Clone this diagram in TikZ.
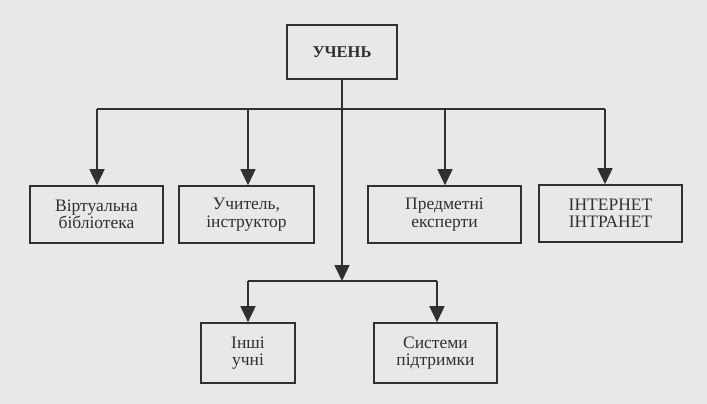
\documentclass[tikz,border=0pt]{standalone}
\usepackage{fontspec}
\setmainfont{Liberation Serif}
\usetikzlibrary{arrows.meta}
\definecolor{ink}{HTML}{303030}
\definecolor{paper}{HTML}{E8E8E8}
\begin{document}
\begin{tikzpicture}[x=1pt,y=-1pt,
  boxnode/.style={draw=ink,line width=1.6pt,align=center,text=ink,inner sep=0pt,
    font=\fontsize{17.5}{17.5}\selectfont},
  arr/.style={draw=ink,line width=1.6pt,-{Triangle[width=15pt,length=16pt]}},
  ln/.style={draw=ink,line width=1.6pt}]
\fill[paper] (0,0) rectangle (707,404);
\useasboundingbox (0,0) rectangle (707,404);
\node[boxnode,minimum width=110pt,minimum height=54pt,font=\bfseries\fontsize{16.5}{18}\selectfont] (top) at (342,52) {УЧЕНЬ};
\node[boxnode,minimum width=133pt,minimum height=57pt] (b1) at (96.5,214.5) {Віртуальна\\бібліотека};
\node[boxnode,minimum width=135pt,minimum height=57pt] (b2) at (246.5,214.5) {Учитель,\\інструктор};
\node[boxnode,minimum width=153pt,minimum height=57pt] (b3) at (444.5,214.5) {Предметні\\експерти};
\node[boxnode,minimum width=143pt,minimum height=57pt] (b4) at (610.5,213.5) {ІНТЕРНЕТ\\ІНТРАНЕТ};
\node[boxnode,minimum width=94pt,minimum height=60pt] (c1) at (248,353) {Інші\\учні};
\node[boxnode,minimum width=123pt,minimum height=60pt] (c2) at (435.5,353) {Системи\\підтримки};
\coordinate (j2) at (342,281);
\coordinate (l1) at (97,109);
\coordinate (m1) at (248,109);
\coordinate (m2) at (445,109);
\coordinate (r1) at (605,109);
\coordinate (l2) at (248,281);
\coordinate (r2) at (437,281);
\draw[arr] (top.south) -- (j2);
\draw[ln] (l1) -- (r1);
\draw[arr] (l1) -- (l1 |- b1.north);
\draw[arr] (m1) -- (m1 |- b2.north);
\draw[arr] (m2) -- (m2 |- b3.north);
\draw[arr] (r1) -- (r1 |- b4.north);
\draw[ln] (l2) -- (r2);
\draw[arr] (l2) -- (c1.north);
\draw[arr] (r2) -- (r2 |- c2.north);
\end{tikzpicture}
\end{document}
